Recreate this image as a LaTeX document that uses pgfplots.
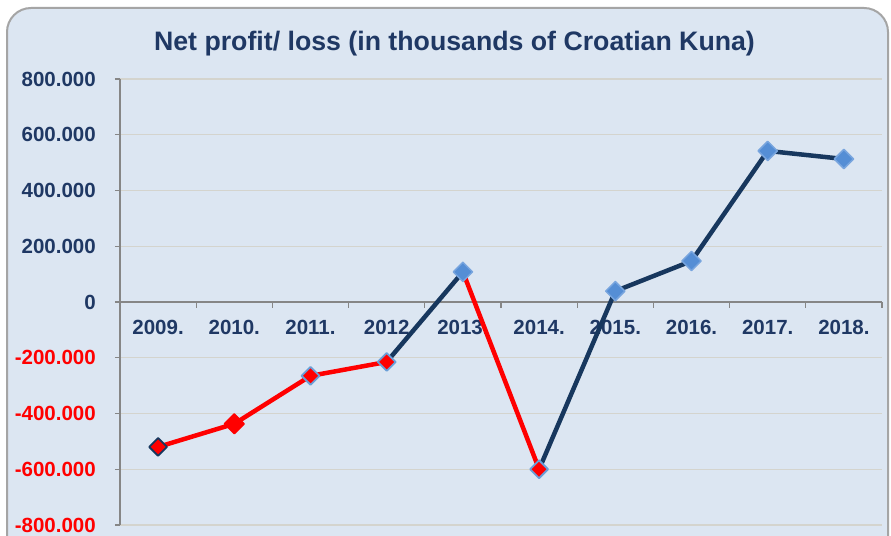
\documentclass[border=0pt]{standalone}
\usepackage{pgfplots}
\pgfplotsset{compat=1.18}
\usepackage{fontspec}
\setmainfont{Liberation Sans}
\definecolor{navy}{RGB}{23,55,94}
\definecolor{txtnavy}{RGB}{31,56,100}
\definecolor{bgblue}{RGB}{220,230,242}
\definecolor{gridcol}{RGB}{212,212,206}
\definecolor{axisgray}{RGB}{134,134,134}
\definecolor{bordergray}{RGB}{165,165,165}
\definecolor{mblue}{RGB}{85,142,213}
\definecolor{mblueedge}{RGB}{120,165,222}
\definecolor{redborder}{RGB}{106,159,216}
\pgfplotstableread{
x y
0 -520
1 -437
2 -265
3 -215
}\redA
\pgfplotstableread{
x y
4 108
5 -600
}\redB
\pgfplotstableread{
x y
3 -215
4 108
}\navyA
\pgfplotstableread{
x y
5 -600
6 39
7 147
8 542
9 513
}\navyB
\pgfplotstableread{
x y
4 108
6 39
7 147
8 542
9 513
}\posdata
\pgfplotstableread{
x y
2 -265
3 -215
5 -600
}\negblue
\begin{document}
\begin{tikzpicture}
\useasboundingbox (0,0) rectangle (891bp,536bp);
\clip (0,0) rectangle (891bp,536bp);
\fill[white] (0,0) rectangle (891bp,536bp);
\draw[rounded corners=24bp, fill=bgblue, draw=bordergray, line width=2bp] (7bp,-40bp) rectangle (888bp,528bp);
\node[anchor=base, inner sep=0pt, font=\bfseries\fontsize{26.7bp}{30bp}\selectfont, text=txtnavy] at (454.5bp,485bp) {Net profit/ loss (in thousands of Croatian Kuna)};
\begin{axis}[
  at={(120bp,11bp)}, anchor=south west,
  scale only axis, width=762bp, height=446bp,
  xmin=-0.5, xmax=9.5, ymin=-800, ymax=800,
  axis x line=middle, axis y line=left,
  axis line style={-, draw=axisgray, line width=1.2bp},
  tick align=outside,
  xtick={0,...,9},
  xticklabels={2009.,2010.,2011.,2012,2013.,2014.,2015.,2016.,2017.,2018.},
  minor xtick={-0.5,0.5,...,9.5},
  every major x tick/.append style={draw=none},
  every minor tick/.append style={draw=axisgray, line width=1.2bp},
  every major y tick/.append style={draw=axisgray, line width=1.2bp},
  major tick length=5bp, minor tick length=6bp,
  ytick={-800,-600,...,800},
  yticklabels={\textcolor{red}{-800.000},\textcolor{red}{-600.000},\textcolor{red}{-400.000},\textcolor{red}{-200.000},0,200.000,400.000,600.000,800.000},
  ticklabel style={font=\bfseries\fontsize{20.5bp}{24bp}\selectfont, text=txtnavy, inner sep=0pt},
  xticklabel style={anchor=north, yshift=-13bp},
  yticklabel style={anchor=east, xshift=-19bp},
  ymajorgrids, major grid style={draw=gridcol, line width=1.2bp},
  clip=false,
  line join=round,
]
\addplot[draw=red, line width=4.5bp] table {\redA};
\addplot[draw=red, line width=4.5bp] table {\redB};
\addplot[draw=navy, line width=4.5bp] table {\navyA};
\addplot[draw=navy, line width=4.5bp] table {\navyB};
\addplot[only marks, mark=square*, mark size=6.8bp, mark options={rotate=45, fill=mblue, draw=mblueedge, line width=1.5bp}] table {\posdata};
\addplot[only marks, mark=square*, mark size=6.3bp, mark options={rotate=45, fill=red, draw=redborder, line width=1.8bp}] table {\negblue};
\addplot[only marks, mark=square*, mark size=6.3bp, mark options={rotate=45, fill=red, draw=navy, line width=1.8bp}] coordinates {(0,-520)};
\addplot[only marks, mark=square*, mark size=7bp, mark options={rotate=45, fill=red, draw=red, line width=1.5bp}] coordinates {(1,-437)};
\end{axis}
\end{tikzpicture}
\end{document}
